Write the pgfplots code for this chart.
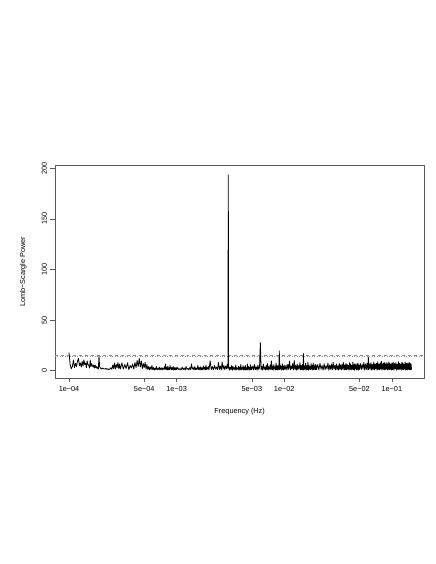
\documentclass[border=0pt]{standalone}
\usepackage{pgfplots}
\pgfplotsset{compat=1.18}
\usepackage{fontspec}
\setmainfont{Liberation Sans}
\newcommand{\rfont}{\fontsize{7.3bp}{8.8bp}\selectfont}

\begin{document}
\begin{tikzpicture}
\path[use as bounding box] (0,0) rectangle (436bp,564bp);
\begin{axis}[
  at={(55bp,186bp)}, anchor=south west,
  scale only axis, width=369.3bp, height=212.3bp,
  xmode=log, xmin=7.41e-5, xmax=0.2004,
  ymin=-7.3, ymax=202.5,
  axis line style={black!65, line width=0.6bp},
  every tick/.style={black!65, line width=0.6bp},
  tick align=outside, major tick length=4.5bp,
  xtick pos=bottom, ytick pos=left, xminorticks=false, yminorticks=false,
  xtick={1e-4,5e-4,1e-3,5e-3,1e-2,5e-2,1e-1},
  xticklabels={1e−04,5e−04,1e−03,5e−03,1e−02,5e−02,1e−01},
  ytick={0,50,100,150,200},
  yticklabels={0,50,100,150,200},
  tick label style={font=\rfont},
  yticklabel style={rotate=90, anchor=south},
  xlabel={Frequency (Hz)}, ylabel={Lomb−Scargle Power},
  every axis x label/.style={at={(axis description cs:0.5,-0.1587)}, anchor=center, font=\rfont},
  every axis y label/.style={at={(axis description cs:-0.0858,0.5)}, anchor=center, rotate=90, font=\rfont},
]
% significance levels
\addplot[black!45, dashed, line width=0.5bp] coordinates {(7.41e-5,15.6) (0.2004,15.6)};
\addplot[black!45, dotted, line width=0.5bp] coordinates {(7.41e-5,13.9) (0.2004,13.9)};

% periodogram
\addplot[black, line width=0.8bp, line join=round] coordinates {
(1.000e-4,17.8) (1.025e-4,6) (1.050e-4,1.8) (1.075e-4,4) (1.100e-4,10.5) (1.125e-4,3) (1.150e-4,7.2) (1.175e-4,4) (1.200e-4,9.5) (1.225e-4,12)
(1.250e-4,5) (1.275e-4,7.5) (1.300e-4,3.5) (1.325e-4,9) (1.350e-4,4.5) (1.375e-4,10.5) (1.400e-4,6) (1.425e-4,7.5) (1.450e-4,3) (1.475e-4,9.5)
(1.500e-4,6) (1.525e-4,5.5) (1.550e-4,2.5) (1.575e-4,10.5) (1.600e-4,4) (1.625e-4,7) (1.650e-4,5) (1.675e-4,3.5) (1.700e-4,5.5) (1.725e-4,2.5)
(1.750e-4,5.5) (1.775e-4,3) (1.800e-4,4) (1.825e-4,2) (1.850e-4,3.5) (1.875e-4,1.5) (1.900e-4,14.7) (1.925e-4,4) (1.950e-4,3) (1.975e-4,2)
(2.000e-4,1.5) (2.05e-4,2.5) (2.10e-4,1.8) (2.15e-4,1.5) (2.20e-4,2.2) (2.25e-4,1.2) (2.30e-4,1.8) (2.35e-4,1.0) (2.40e-4,1.6) (2.45e-4,2.8)
(2.50e-4,1.2) (2.55e-4,5.5) (2.60e-4,2) (2.65e-4,7.5) (2.70e-4,1.5) (2.75e-4,6) (2.80e-4,3) (2.85e-4,8) (2.90e-4,2) (2.95e-4,6.5) (3.00e-4,1.5)
(3.1e-4,7.5) (3.2e-4,1.5) (3.3e-4,6) (3.4e-4,2) (3.5e-4,7.8) (3.6e-4,1) (3.7e-4,5) (3.8e-4,2.5) (3.9e-4,6.5) (4.0e-4,1.5)
(4.1e-4,8) (4.2e-4,3) (4.3e-4,10) (4.4e-4,4) (4.5e-4,12) (4.6e-4,3.5) (4.7e-4,9.5) (4.8e-4,2) (4.9e-4,7) (5.0e-4,3)
(5.1e-4,8) (5.2e-4,1.5) (5.3e-4,6) (5.4e-4,1) (5.5e-4,4) (5.6e-4,0.8) (5.7e-4,3.5) (5.8e-4,1.2) (5.9e-4,5) (6.0e-4,1)
(6.1e-4,3) (6.2e-4,0.5) (6.3e-4,2.5) (6.4e-4,1) (6.5e-4,4) (6.6e-4,0.8) (6.7e-4,2) (6.8e-4,1.2) (6.9e-4,3.5) (7.0e-4,0.6)
(7.1e-4,2.5) (7.2e-4,1) (7.3e-4,3) (7.4e-4,0.8) (7.5e-4,2.2) (7.6e-4,1.4) (7.7e-4,3.8) (7.8e-4,0.7) (7.9e-4,6.5) (8.0e-4,1.2)
(8.1e-4,3) (8.2e-4,0.6) (8.3e-4,4.5) (8.4e-4,1) (8.5e-4,2.5) (8.6e-4,0.8) (8.7e-4,5) (8.8e-4,1.5) (8.9e-4,3.2) (9.0e-4,0.7)
(9.1e-4,2.8) (9.2e-4,1.2) (9.3e-4,4) (9.4e-4,0.5) (9.5e-4,3) (9.6e-4,1) (9.7e-4,2.4) (9.8e-4,0.8) (9.9e-4,3.5) (1.000e-3,1)
(1.025e-3,3) (1.050e-3,0.8) (1.075e-3,2) (1.100e-3,0.6) (1.125e-3,3.5) (1.150e-3,1) (1.175e-3,2.5) (1.200e-3,0.5) (1.225e-3,4) (1.250e-3,1.2)
(1.275e-3,2.2) (1.300e-3,0.7) (1.325e-3,3) (1.350e-3,1) (1.375e-3,6.5) (1.400e-3,1.5) (1.425e-3,3) (1.450e-3,0.6) (1.475e-3,4) (1.500e-3,1)
(1.525e-3,2.5) (1.550e-3,0.8) (1.575e-3,5) (1.600e-3,1.2) (1.625e-3,3) (1.650e-3,0.5) (1.675e-3,3.8) (1.700e-3,1) (1.725e-3,2.8) (1.750e-3,0.7)
(1.775e-3,4.5) (1.800e-3,1.3) (1.825e-3,3.2) (1.850e-3,0.8) (1.875e-3,5.5) (1.900e-3,1) (1.925e-3,3) (1.950e-3,1.5) (1.975e-3,4) (2.000e-3,0.6)
(2.05e-3,9.5) (2.10e-3,1) (2.15e-3,4) (2.20e-3,0.8) (2.25e-3,5) (2.30e-3,1.5) (2.35e-3,3.5) (2.40e-3,1) (2.45e-3,8) (2.50e-3,1.2)
(2.55e-3,4.5) (2.60e-3,0.7) (2.65e-3,8.5) (2.70e-3,1.5) (2.75e-3,5) (2.80e-3,1) (2.85e-3,4.2) (2.90e-3,1.8) (2.95e-3,6) (3.00e-3,2)
(3.012e-3,110) (3.024e-3,193.4) (3.036e-3,2.5)
(3.05e-3,4.5) (3.10e-3,0.5) (3.15e-3,3.5) (3.20e-3,1) (3.25e-3,5) (3.30e-3,0.4) (3.35e-3,4) (3.40e-3,1.2) (3.45e-3,3) (3.50e-3,0.6)
(3.55e-3,5.5) (3.60e-3,0.8) (3.65e-3,2.5) (3.70e-3,1.5) (3.75e-3,4.2) (3.80e-3,0.3) (3.85e-3,3.6) (3.90e-3,1) (3.95e-3,6) (4.00e-3,0.7)
(4.05e-3,3) (4.10e-3,1.3) (4.15e-3,4.8) (4.20e-3,0.5) (4.25e-3,3.4) (4.30e-3,1) (4.35e-3,5.2) (4.40e-3,0.4) (4.45e-3,2.8) (4.50e-3,1.1)
(4.55e-3,6.5) (4.60e-3,0.6) (4.65e-3,4) (4.70e-3,1.4) (4.75e-3,3.2) (4.80e-3,0.5) (4.85e-3,5.8) (4.90e-3,0.9) (4.95e-3,3.7) (5.00e-3,1.2)
(5.1e-3,4.5) (5.2e-3,0.6) (5.3e-3,6) (5.4e-3,1) (5.5e-3,3.8) (5.6e-3,0.4) (5.7e-3,5.5) (5.8e-3,1.2) (5.9e-3,3) (6.0e-3,27.7)
(6.1e-3,1) (6.2e-3,4.2) (6.3e-3,0.5) (6.4e-3,6.5) (6.5e-3,1.3) (6.6e-3,3.5) (6.7e-3,0.7) (6.8e-3,5) (6.9e-3,1) (7.0e-3,7)
(7.1e-3,0.5) (7.2e-3,4) (7.3e-3,1.4) (7.4e-3,5.5) (7.5e-3,0.8) (7.6e-3,9.5) (7.7e-3,1) (7.8e-3,4.5) (7.9e-3,0.4) (8.0e-3,6)
(8.1e-3,1.5) (8.2e-3,3.8) (8.3e-3,0.6) (8.4e-3,7.5) (8.5e-3,1) (8.6e-3,5) (8.7e-3,0.5) (8.8e-3,4.2) (8.9e-3,1.2) (9.0e-3,19.5)
(9.1e-3,0.8) (9.2e-3,5.5) (9.3e-3,1.5) (9.4e-3,4) (9.5e-3,0.4) (9.6e-3,6.8) (9.7e-3,1) (9.8e-3,4.6) (9.9e-3,0.7) (1.00e-2,5.2)
(1.02e-2,1) (1.04e-2,5.5) (1.06e-2,0.5) (1.08e-2,6.2) (1.10e-2,1.3) (1.12e-2,9.5) (1.14e-2,0.8) (1.16e-2,4.5) (1.18e-2,1.5) (1.20e-2,7)
(1.22e-2,0.6) (1.24e-2,10) (1.26e-2,1.2) (1.28e-2,5) (1.30e-2,0.4) (1.32e-2,6.5) (1.34e-2,1) (1.36e-2,4.8) (1.38e-2,1.6) (1.40e-2,7.8)
(1.42e-2,0.7) (1.44e-2,5.2) (1.46e-2,1.1) (1.48e-2,6) (1.50e-2,0.5) (1.51e-2,16.8) (1.52e-2,0.9) (1.54e-2,4.5) (1.56e-2,1.4) (1.58e-2,7.2)
(1.60e-2,0.6) (1.62e-2,5) (1.64e-2,1) (1.66e-2,8) (1.68e-2,0.4) (1.70e-2,5.6) (1.72e-2,1.3) (1.74e-2,4.2) (1.76e-2,0.8) (1.78e-2,6.8)
(1.80e-2,1.5) (1.82e-2,5) (1.84e-2,0.5) (1.86e-2,7.5) (1.88e-2,1) (1.90e-2,4.6) (1.92e-2,1.2) (1.94e-2,6.2) (1.96e-2,0.7) (1.98e-2,5.4)
(2.00e-2,1.1) (2.05e-2,6) (2.10e-2,0.6) (2.15e-2,7.2) (2.20e-2,1.4) (2.25e-2,5) (2.30e-2,0.5) (2.35e-2,6.8) (2.40e-2,1) (2.45e-2,4.8)
(2.50e-2,1.6) (2.55e-2,7.5) (2.60e-2,0.4) (2.65e-2,5.6) (2.70e-2,1.2) (2.75e-2,6.4) (2.80e-2,0.8) (2.85e-2,8.2) (2.90e-2,1.5) (2.95e-2,5.2)
(3.00e-2,0.6) (3.05e-2,6.6) (3.10e-2,1.1) (3.15e-2,4.9) (3.20e-2,0.5) (3.25e-2,7) (3.30e-2,1.3) (3.35e-2,5.8) (3.40e-2,0.7) (3.45e-2,6.2)
(3.50e-2,1.4) (3.55e-2,8) (3.60e-2,0.5) (3.65e-2,5.5) (3.70e-2,1) (3.75e-2,7.3) (3.80e-2,0.8) (3.85e-2,6) (3.90e-2,1.5) (3.95e-2,5)
(4.00e-2,0.4) (4.05e-2,7.8) (4.10e-2,1.2) (4.15e-2,6.4) (4.20e-2,0.6) (4.25e-2,5.2) (4.30e-2,1.3) (4.35e-2,8.5) (4.40e-2,0.9) (4.45e-2,6)
(4.50e-2,0.4) (4.55e-2,7) (4.60e-2,1.6) (4.65e-2,5.6) (4.70e-2,0.7) (4.75e-2,6.8) (4.80e-2,1.1) (4.85e-2,7.6) (4.90e-2,0.5) (4.95e-2,5.4)
(5.00e-2,1.2) (5.1e-2,7) (5.2e-2,0.8) (5.3e-2,6.2) (5.4e-2,1.5) (5.5e-2,8) (5.6e-2,0.5) (5.7e-2,6.6) (5.8e-2,1.2) (5.9e-2,7.4)
(6.0e-2,0.6) (6.05e-2,13.5) (6.1e-2,1) (6.2e-2,6.8) (6.3e-2,1.4) (6.4e-2,7.8) (6.5e-2,0.5) (6.6e-2,6) (6.7e-2,1.1) (6.8e-2,8.4)
(6.9e-2,0.7) (7.0e-2,6.5) (7.1e-2,1.6) (7.2e-2,7.2) (7.3e-2,0.4) (7.4e-2,8.8) (7.5e-2,1.2) (7.6e-2,6.2) (7.7e-2,0.8) (7.8e-2,7.6)
(7.9e-2,1.5) (8.0e-2,9) (8.1e-2,0.6) (8.2e-2,6.8) (8.3e-2,1.3) (8.4e-2,7.4) (8.5e-2,0.5) (8.6e-2,8.2) (8.7e-2,1) (8.8e-2,6.4)
(8.9e-2,1.7) (9.0e-2,7.8) (9.1e-2,0.6) (9.2e-2,6.6) (9.3e-2,1.2) (9.4e-2,8.6) (9.5e-2,0.9) (9.6e-2,7) (9.7e-2,1.4) (9.8e-2,6)
(9.9e-2,0.5) (0.1000,7.5) (0.1015,1) (0.1030,8.2) (0.1045,0.6) (0.1060,7) (0.1075,1.5) (0.1090,7.8) (0.1105,0.5) (0.1120,6.4)
(0.1135,1.1) (0.1150,8.8) (0.1165,0.7) (0.1180,7.2) (0.1195,1.4) (0.1210,6.6) (0.1225,0.4) (0.1240,8) (0.1255,1.2) (0.1270,7.4)
(0.1285,0.8) (0.1300,6.2) (0.1315,1.6) (0.1330,8.4) (0.1345,0.5) (0.1360,7) (0.1375,1) (0.1390,7.6) (0.1405,0.6) (0.1420,6.8)
(0.1435,1.3) (0.1450,8.2) (0.1465,0.7) (0.1480,7.2) (0.1495,1.1) (0.1510,6.6) (0.1525,0.9)
};
\end{axis}
\end{tikzpicture}
\end{document}
